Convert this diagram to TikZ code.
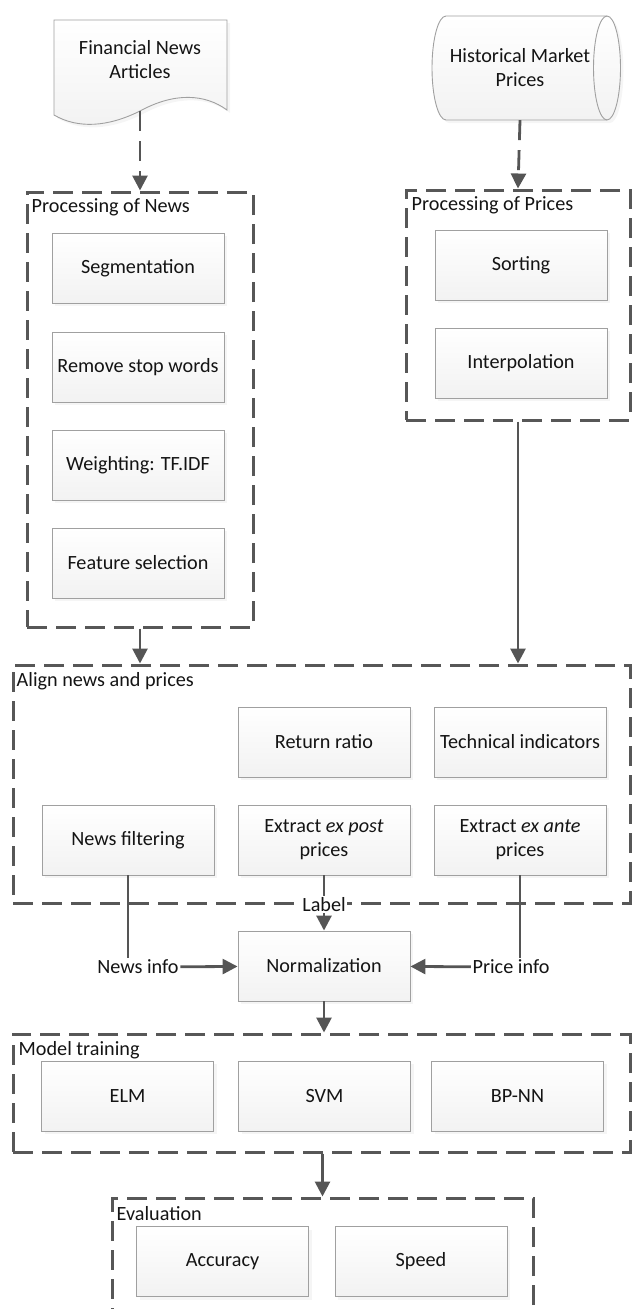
\documentclass[tikz,border=0pt]{standalone}
\usepackage{fontspec}
\setmainfont{Carlito}
\usetikzlibrary{arrows.meta,shadows,calc}
\definecolor{boxline}{HTML}{A0A0A0}
\definecolor{boxfill}{HTML}{F2F2F2}
\definecolor{grpline}{HTML}{575757}
\definecolor{arrline}{HTML}{555555}
\definecolor{txt}{HTML}{141414}
\tikzset{
  proc/.style={rectangle,draw=boxline,line width=0.9pt,top color=white,bottom color=boxfill,
    minimum width=172pt,minimum height=70pt,align=center,text=txt,
    drop shadow={shadow xshift=3pt,shadow yshift=-3pt,opacity=0.08}},
  shp/.style={draw=boxline,line width=0.9pt,top color=white,bottom color=boxfill,
    drop shadow={shadow xshift=3pt,shadow yshift=-3pt,opacity=0.08}},
  grp/.style={rectangle,draw=grpline,line width=3pt,dash pattern=on 20pt off 9pt,inner sep=0pt},
  grptitle/.style={anchor=base west,text=txt,inner sep=0pt},
  arr/.style={-{Triangle[length=15pt,width=15pt]},arrline,line width=2.8pt},
  darr/.style={arr,dash pattern=on 20pt off 10pt},
  lnk/.style={arrline,line width=2.8pt},
  lbl/.style={text=txt,fill=white,inner sep=1.5pt},
}

\begin{document}
\begin{tikzpicture}[x=1pt,y=1pt,font=\fontsize{20.2}{24}\selectfont]
  \useasboundingbox (0,0) rectangle (632,-1309);
  \clip (0,0) rectangle (632,-1309);
  % sources
  \draw[shp] (54,-20) -- (227,-20) -- (227,-110)
    .. controls (205,-94) and (175,-92) .. (140,-111)
    .. controls (108,-127) and (78,-129) .. (54,-115) -- cycle;
  \node[text=txt,align=center] (news) at (140,-60) {Financial News\\Articles};
  \coordinate (newsb) at (140,-111);
  \draw[shp] (446,-16) -- (607,-16) arc[start angle=90,end angle=-90,x radius=13.5,y radius=52]
    -- (446,-120) arc[start angle=270,end angle=90,x radius=14,y radius=52] -- cycle;
  \draw[boxline,line width=0.9pt] (607,-16) arc[start angle=90,end angle=270,x radius=13.5,y radius=52];
  \node[text=txt,align=center,minimum height=104pt] (hist) at (520,-68) {Historical Market\\Prices};
  % groups
  \node[grp,minimum width=226pt,minimum height=435pt] (newsgrp) at (140,-409.5) {};
  \node[grp,minimum width=224pt,minimum height=230pt] (pricegrp) at (518,-305) {};
  \node[grp,minimum width=617pt,minimum height=238pt] (aligngrp) at (321.5,-784) {};
  \node[grp,minimum width=617pt,minimum height=118pt] (traingrp) at (321.5,-1093) {};
  \node[grp,minimum width=421pt,minimum height=150pt] (evalgrp) at (322.5,-1273) {};
  \node[grptitle] at ([shift={(6,-22)}]newsgrp.north west) {Processing of News};
  \node[grptitle] at ([shift={(7,-22)}]pricegrp.north west) {Processing of Prices};
  \node[grptitle] at ([shift={(5,-23)}]aligngrp.north west) {Align news and prices};
  \node[grptitle] at ([shift={(7,-23)}]traingrp.north west) {Model training};
  \node[grptitle] at ([shift={(6,-24)}]evalgrp.north west) {Evaluation};
  % steps
  \node[proc] (seg) at (138,-268) {Segmentation};
  \node[proc] (stop) at (138,-367) {Remove stop words};
  \node[proc] (weight) at (138,-465) {Weighting: TF.IDF};
  \node[proc] (feat) at (138,-563) {Feature selection};
  \node[proc] (sort) at (521,-265) {Sorting};
  \node[proc] (interp) at (521,-363) {Interpolation};
  \node[proc] (ret) at (324,-742) {Return ratio};
  \node[proc] (tech) at (520,-742) {Technical indicators};
  \node[proc] (filt) at (128,-840) {News filtering};
  \node[proc] (post) at (324,-840) {Extract \emph{ex post}\\prices};
  \node[proc] (ante) at (520,-840) {Extract \emph{ex ante}\\prices};
  \node[proc] (norm) at (324,-966) {Normalization};
  \node[proc] (elm) at (127.5,-1096) {ELM};
  \node[proc] (svm) at (324.5,-1096) {SVM};
  \node[proc] (bpnn) at (517.5,-1096) {BP-NN};
  \node[proc] (acc) at (222.5,-1261.5) {Accuracy};
  \node[proc] (speed) at (421,-1261.5) {Speed};
  % labels
  \node[lbl] (label) at (aligngrp.south -| post) {Label};
  \node[lbl] (ninfo) at (138,-967) {News info};
  \node[lbl] (pinfo) at (511,-967) {Price info};
  % connectors
  \draw[darr] (newsb) -- (newsgrp.north);
  \draw[darr] (hist.south) -- (pricegrp.north);
  \draw[arr] (newsgrp.south) -- (newsgrp.south |- aligngrp.north);
  \draw[arr] (pricegrp.south) -- (pricegrp.south |- aligngrp.north);
  \draw[lnk] (post) -- (label);
  \draw[arr] (label) -- (norm);
  \draw[lnk] (filt.south) -- (filt.south |- ninfo.north);
  \draw[lnk] (ante.south) -- (ante.south |- pinfo.north);
  \draw[arr] (ninfo) -- (norm);
  \draw[arr] (pinfo) -- (norm);
  \draw[arr] (norm) -- (norm.south |- traingrp.north);
  \draw[arr] (evalgrp.north |- traingrp.south) -- (evalgrp.north);
\end{tikzpicture}
\end{document}
